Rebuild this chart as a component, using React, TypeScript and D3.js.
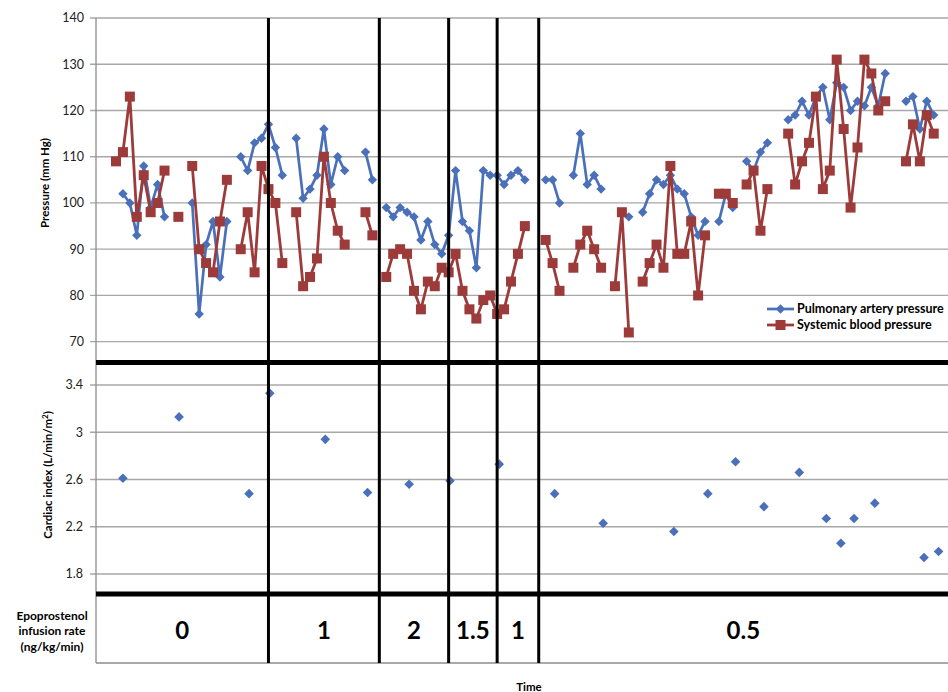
import React from "react";
import * as d3 from "d3";

// time points 0..118, null = no measurement
const pulmonaryArtery: (number | null)[] = [
  null, 102, 100, 93, 108, 99, 104, 97, null, null,
  null, 100, 76, 91, 96, 84, 96, null, 110, 107,
  113, 114, 117, 112, 106, null, 114, 101, 103, 106,
  116, 104, 110, 107, null, null, 111, 105, null, 99,
  97, 99, 98, 97, 92, 96, 91, 89, 93, 107,
  96, 94, 86, 107, 106, 106, 104, 106, 107, 105,
  null, null, 105, 105, 100, null, 106, 115, 104, 106,
  103, null, null, null, 97, null, 98, 102, 105, 104,
  106, 103, 102, 97, 93, 96, null, 96, 102, 99,
  null, 109, 107, 111, 113, null, null, 118, 119, 122,
  119, 123, 125, 118, 126, 125, 120, 122, 121, 125,
  121, 128, null, null, 122, 123, 116, 122, 119,
];

const systemicBlood: (number | null)[] = [
  109, 111, 123, 97, 106, 98, 100, 107, null, 97,
  null, 108, 90, 87, 85, 96, 105, null, 90, 98,
  85, 108, 103, 100, 87, null, 98, 82, 84, 88,
  110, 100, 94, 91, null, null, 98, 93, null, 84,
  89, 90, 89, 81, 77, 83, 82, 86, 85, 89,
  81, 77, 75, 79, 80, 76, 77, 83, 89, 95,
  null, null, 92, 87, 81, null, 86, 91, 94, 90,
  86, null, 82, 98, 72, null, 83, 87, 91, 86,
  108, 89, 89, 96, 80, 93, null, 102, 102, 100,
  null, 104, 107, 94, 103, null, null, 115, 104, 109,
  113, 123, 103, 107, 131, 116, 99, 112, 131, 128,
  120, 122, null, null, 109, 117, 109, 119, 115,
];

const cardiacTime = [
  1, 9.1, 19.2, 22.2, 30.2, 36.3, 42.3, 48.2, 55.3, 63.3, 70.3,
  80.5, 85.4, 89.4, 93.5, 98.6, 102.5, 104.6, 106.5, 109.5, 116.6, 118.7,
];
const cardiacIndex = [
  2.61, 3.13, 2.48, 3.33, 2.94, 2.49, 2.56, 2.59, 2.73, 2.48, 2.23,
  2.16, 2.48, 2.75, 2.37, 2.66, 2.27, 2.06, 2.27, 2.4, 1.94, 1.99,
];

const phaseStarts = [22, 38, 48, 55, 61];
const infusionRates = ["0", "1", "2", "1.5", "1", "0.5"];
const pressureTicks = [70, 80, 90, 100, 110, 120, 130, 140];
const cardiacTicks = [1.8, 2.2, 2.6, 3, 3.4];

const W = 948;
const H = 692;
const left = 96;
const right = 948;
const FONT = "Lato, 'Open Sans', Arial, sans-serif";
const BLUE = "#4a70b9";
const RED = "#9c3b39";
const GRID = "#a8a8a8";

const diamond = (r: number) => `M0,${-r}L${r},0L0,${r}L${-r},0Z`;

export default function App() {
  const x = d3.scaleLinear().domain([-2.886, 120.06]).range([left, right]);
  const yP = d3.scaleLinear().domain([70, 140]).range([341.7, 18]);
  const yC = d3.scaleLinear().domain([1.8, 3.4]).range([574, 385]);

  const sepTop = 362.5;
  const sepBottom = 594;
  const tableBottom = 663;

  const line = d3
    .line<number | null>()
    .defined((d) => d != null)
    .x((_, i) => x(i))
    .y((d) => yP(d as number));

  const cells = [left, ...phaseStarts.map((p) => x(p)), right];

  return (
    <svg
      width={W}
      height={H}
      style={{ position: "absolute", left: 0, top: 0, background: "#fff" }}
      fontFamily={FONT}
    >
      <rect width={W} height={H} fill="#fff" />

      {/* pressure grid */}
      {pressureTicks.map((t) => (
        <g key={"p" + t}>
          <line x1={90} x2={right} y1={yP(t)} y2={yP(t)} stroke={GRID} strokeWidth={1.3} />
          <text x={84} y={yP(t)} dy="0.35em" textAnchor="end" fontSize={12.5} fill="#222">
            {t}
          </text>
        </g>
      ))}

      {/* cardiac grid */}
      {cardiacTicks.map((t) => (
        <g key={"c" + t}>
          <line x1={90} x2={right} y1={yC(t)} y2={yC(t)} stroke={GRID} strokeWidth={1.3} />
          <text x={83} y={yC(t)} dy="0.35em" textAnchor="end" fontSize={12.5} fill="#222">
            {t}
          </text>
        </g>
      ))}

      {/* left axis and table bottom */}
      <line x1={left} x2={left} y1={yP(140)} y2={tableBottom} stroke="#8c8c8c" strokeWidth={1.3} />
      <line x1={left} x2={right} y1={tableBottom} y2={tableBottom} stroke="#8c8c8c" strokeWidth={1.3} />

      {/* pulmonary artery pressure */}
      <path d={line(pulmonaryArtery) || ""} fill="none" stroke={BLUE} strokeWidth={2.7} />
      {pulmonaryArtery.map((v, i) =>
        v == null ? null : (
          <path key={"b" + i} d={diamond(4.7)} transform={`translate(${x(i)},${yP(v)})`} fill={BLUE} />
        )
      )}

      {/* systemic blood pressure */}
      <path d={line(systemicBlood) || ""} fill="none" stroke={RED} strokeWidth={2.8} />
      {systemicBlood.map((v, i) =>
        v == null ? null : (
          <rect key={"r" + i} x={x(i) - 5} y={yP(v) - 5} width={10} height={10} fill={RED} />
        )
      )}

      {/* cardiac index */}
      {cardiacIndex.map((v, i) => (
        <path
          key={"ci" + i}
          d={diamond(4.8)}
          transform={`translate(${x(cardiacTime[i])},${yC(v)})`}
          fill={BLUE}
        />
      ))}

      {/* phase separators */}
      {phaseStarts.map((p) => (
        <line key={"v" + p} x1={x(p)} x2={x(p)} y1={yP(140)} y2={tableBottom} stroke="#000" strokeWidth={3} />
      ))}
      <line x1={left} x2={right} y1={sepTop} y2={sepTop} stroke="#000" strokeWidth={5} />
      <line x1={left} x2={right} y1={sepBottom} y2={sepBottom} stroke="#000" strokeWidth={5} />

      {/* infusion rates */}
      {infusionRates.map((r, i) => (
        <text
          key={"ir" + i}
          x={(cells[i] + cells[i + 1]) / 2}
          y={631}
          dy="0.35em"
          textAnchor="middle"
          fontSize={24}
          fontWeight="bold"
          fill="#000"
        >
          {r}
        </text>
      ))}

      {/* legend */}
      <g fontSize={12.5} fontWeight="bold" fill="#000">
        <line x1={767} x2={794} y1={309} y2={309} stroke={BLUE} strokeWidth={2.7} />
        <path d={diamond(4.7)} transform="translate(780.5,309)" fill={BLUE} />
        <text x={797} y={309} dy="0.35em">Pulmonary artery pressure</text>
        <line x1={767} x2={794} y1={325} y2={325} stroke={RED} strokeWidth={2.8} />
        <rect x={775.5} y={320} width={10} height={10} fill={RED} />
        <text x={797} y={325} dy="0.35em">Systemic blood pressure</text>
      </g>

      {/* axis titles */}
      <text
        transform="translate(45,183) rotate(-90)"
        textAnchor="middle"
        dy="0.35em"
        fontSize={11.5}
        fontWeight="bold"
        fill="#000"
      >
        Pressure (mm Hg)
      </text>
      <text
        transform="translate(48,475) rotate(-90)"
        textAnchor="middle"
        dy="0.35em"
        fontSize={11.5}
        fontWeight="bold"
        fill="#000"
      >
        Cardiac index (L/min/m
        <tspan fontSize={8} dy="-4">2</tspan>
        <tspan dy="4">)</tspan>
      </text>
      <g fontSize={12} fontWeight="bold" fill="#000" textAnchor="middle">
        <text x={52} y={615.5} dy="0.35em">Epoprostenol</text>
        <text x={52} y={631} dy="0.35em">infusion rate</text>
        <text x={52} y={646.5} dy="0.35em">(ng/kg/min)</text>
      </g>
      <text x={529} y={687} dy="0.35em" textAnchor="middle" fontSize={11.5} fontWeight="bold" fill="#000">
        Time
      </text>
    </svg>
  );
}
